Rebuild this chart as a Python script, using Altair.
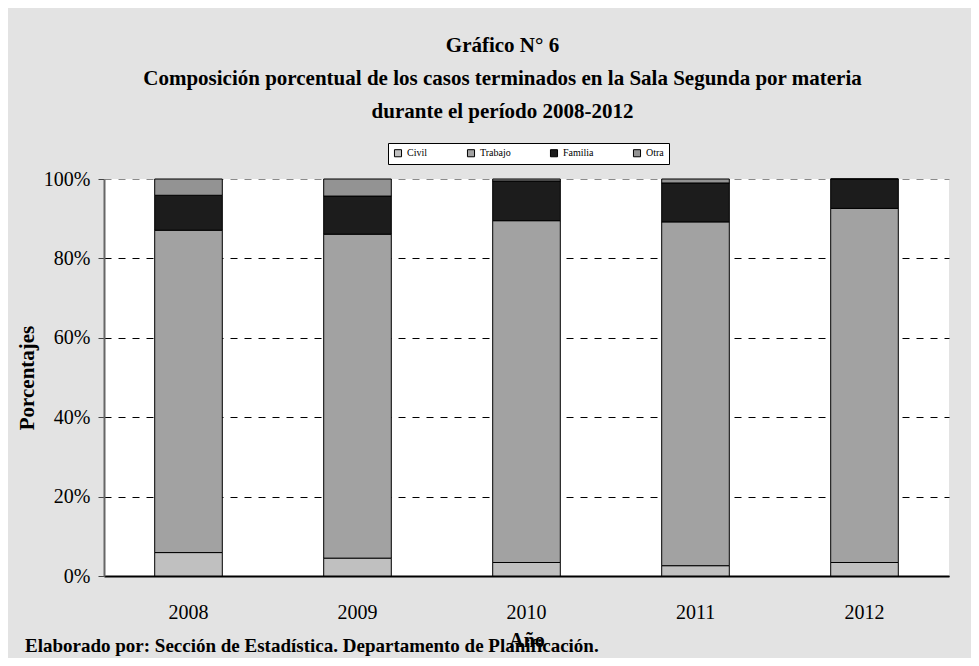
import altair as alt
import pandas as pd

years = ["2008", "2009", "2010", "2011", "2012"]
materias = ["Civil", "Trabajo", "Familia", "Otra"]
civil = [5.9, 4.5, 3.4, 2.6, 3.4]
trabajo = [81.2, 81.6, 86.1, 86.6, 89.2]
familia = [8.8, 9.6, 10.0, 9.8, 7.4]
otra = [4.1, 4.3, 0.5, 1.0, 0.0]
colors = ["#c0c0c0", "#a2a2a2", "#1c1c1c", "#939393"]

title_lines = [
    "Gráfico N° 6",
    "Composición porcentual de los casos terminados en la Sala Segunda por materia",
    "durante el período 2008-2012",
]
footnote = "Elaborado por: Sección de Estadística. Departamento de Planificación."

rows = []
for series_idx, (name, vals) in enumerate(zip(materias, [civil, trabajo, familia, otra])):
    for y, v in zip(years, vals):
        rows.append({"Año": y, "Materia": name, "valor": v, "idx": series_idx})
df = pd.DataFrame(rows)

FONT = "Liberation Serif"

bars = alt.Chart(df).mark_bar(stroke="black", strokeWidth=1).encode(
    x=alt.X(
        "Año:N",
        sort=years,
        scale=alt.Scale(paddingInner=0.6, paddingOuter=0.3),
        axis=alt.Axis(
            title="Año",
            labelAngle=0,
            labelFont=FONT,
            labelFontSize=20,
            labelColor="black",
            labelPadding=26,
            ticks=False,
            domainColor="black",
            domainWidth=2,
            titleFont=FONT,
            titleFontSize=20,
            titleFontWeight="bold",
            titleColor="black",
            titlePadding=8,
        ),
    ),
    y=alt.Y(
        "valor:Q",
        stack="normalize",
        scale=alt.Scale(domain=[0, 1]),
        axis=alt.Axis(
            title="Porcentajes",
            values=[0, 0.2, 0.4, 0.6, 0.8, 1.0],
            format=".0%",
            labelFont=FONT,
            labelFontSize=20,
            labelColor="black",
            labelPadding=8,
            tickSize=6,
            tickColor="#444444",
            domainColor="#666666",
            domainWidth=2,
            grid=True,
            gridColor=alt.condition("datum.value >= 1", alt.value("#8a8a8a"), alt.value("black")),
            gridDash=[7, 7],
            gridWidth=1,
            titleFont=FONT,
            titleFontSize=21,
            titleFontWeight="bold",
            titleColor="black",
            titlePadding=6,
        ),
    ),
    color=alt.Color(
        "Materia:N",
        scale=alt.Scale(domain=materias, range=colors),
        legend=alt.Legend(
            title=None,
            orient="none",
            legendX=284,
            legendY=-36,
            direction="horizontal",
            symbolType="square",
            symbolSize=50,
            symbolStrokeColor="black",
            symbolStrokeWidth=1,
            labelFont=FONT,
            labelFontSize=10,
            labelColor="black",
            columnPadding=37,
            padding=5,
            fillColor="white",
            strokeColor="black",
        ),
    ),
    order=alt.Order("idx:Q", sort="ascending"),
)

note = alt.Chart(pd.DataFrame({"t": [footnote]})).mark_text(
    align="left",
    baseline="middle",
    font=FONT,
    fontSize=19,
    fontWeight="bold",
    color="black",
).encode(
    text="t:N",
    x=alt.value(-79),
    y=alt.value(467),
)

chart = alt.layer(bars, note).properties(
    width=845,
    height=397,
    autosize=alt.AutoSizeParams(type="none"),
    padding={"left": 96, "top": 171, "right": 22, "bottom": 82},
    background="#e3e3e3",
    title=alt.TitleParams(
        text=title_lines,
        font=FONT,
        fontSize=21,
        fontWeight="bold",
        color="black",
        anchor="middle",
        lineHeight=33,
        offset=21,
        dx=-24,
    ),
).configure_view(fill="white", stroke=None)

chart.save("out.html", embed_options={"renderer": "svg", "actions": False})
